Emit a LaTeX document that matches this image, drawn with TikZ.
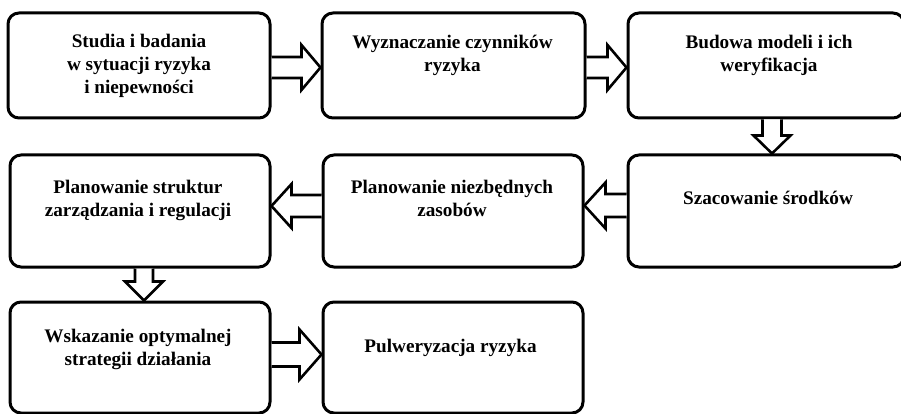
\documentclass[tikz,border=0pt]{standalone}
\usepackage{fontspec}
\setmainfont{Liberation Serif}
\usetikzlibrary{calc}
\tikzset{
  box/.style={draw, line width=3pt, rounded corners=11pt, fill=white, inner sep=0pt},
  lbl/.style={font=\bfseries\fontsize{19.2}{23}\selectfont, align=center, inner sep=0pt},
  blk/.style={draw, line width=2.6pt, fill=white, line join=miter}
}
% #1 start, #2 tip, #3 shaft half-width, #4 head half-width, #5 head length
\newcommand{\blockarrow}[5]{%
  \path coordinate (hb) at ($(#2)!#5pt!(#1)$);
  \draw[blk] ($(#1)!#3pt!90:(#2)$) -- ($(hb)!#3pt!-90:(#1)$) -- ($(hb)!#4pt!-90:(#1)$) -- (#2)
     -- ($(hb)!#4pt!90:(#1)$) -- ($(hb)!#3pt!90:(#1)$) -- ($(#1)!#3pt!-90:(#2)$);
}
\begin{document}
\begin{tikzpicture}[x=1pt,y=-1pt]
\useasboundingbox (0,0) rectangle (901,414);
\clip (0,0) rectangle (901,414);
\fill[white] (0,0) rectangle (901,414);
% boxes
\node[box, minimum width=262pt, minimum height=105pt] (b1) at (139,65.5) {};
\node[box, minimum width=263pt, minimum height=105pt] (b2) at (453.5,65.5) {};
\node[box, minimum width=276pt, minimum height=105pt] (b3) at (766,65.5) {};
\node[box, minimum width=260pt, minimum height=112pt] (b4) at (140,211) {};
\node[box, minimum width=260pt, minimum height=112pt] (b5) at (453,211) {};
\node[box, minimum width=276pt, minimum height=112pt] (b6) at (766,211) {};
\node[box, minimum width=260pt, minimum height=111pt] (b7) at (140,357.5) {};
\node[box, minimum width=260pt, minimum height=111pt] (b8) at (453,357.5) {};
% labels
\node[lbl] (t1) at (139,65.5) {Studia i badania\\w sytuacji ryzyka\\i niepewności};
\node[lbl] (t2) at (452.5,55) {Wyznaczanie czynników\\ryzyka};
\node[lbl] (t3) at (769,55) {Budowa modeli i ich\\weryfikacja};
\node[lbl] (t4) at (138,200.5) {Planowanie struktur\\zarządzania i regulacji};
\node[lbl] (t5) at (452,198.5) {Planowanie niezbędnych\\zasobów};
\node[lbl] (t6) at (768,198) {Szacowanie środków};
\node[lbl] (t7) at (138,349.5) {Wskazanie optymalnej\\strategii działania};
\node[lbl] (t8) at (450.5,348) {Pulweryzacja ryzyka};
% arrows
\blockarrow{$(b1.east)+(0,2)$}{$(b2.west)+(0,2)$}{10.5}{22.5}{19}
\blockarrow{$(b2.east)+(0,2)$}{$(b3.west)+(0,2)$}{10.5}{22.5}{19}
\blockarrow{$(b3.south)+(6,0)$}{$(b6.north)+(6,0)$}{9.5}{18.5}{18}
\blockarrow{$(b6.west)+(0,-5.5)$}{$(b5.east)+(0,-5.5)$}{11.5}{23}{21}
\blockarrow{$(b5.west)+(0,-5)$}{$(b4.east)+(0,-5)$}{11}{22}{20}
\blockarrow{$(b4.south)+(4,0)$}{$(b7.north)+(4,0)$}{9}{19}{19}
\blockarrow{$(b7.east)+(0,-3)$}{$(b8.west)+(0,-3)$}{12}{25}{22}
\end{tikzpicture}
\end{document}
